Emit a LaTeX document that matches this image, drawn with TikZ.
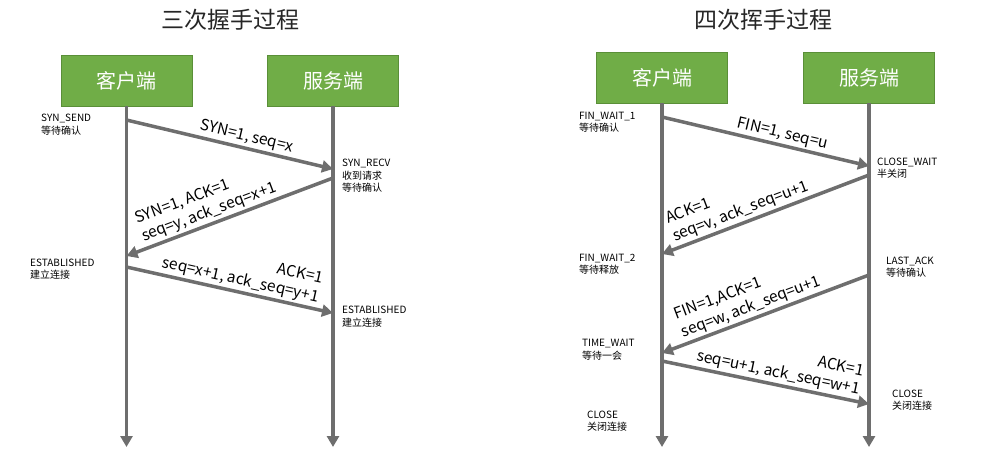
\documentclass[tikz,border=0pt]{standalone}
\usepackage{fontspec}
\setmainfont{Noto Sans CJK SC}
\usetikzlibrary{arrows.meta}
\definecolor{boxgreen}{HTML}{70AD47}
\definecolor{boxline}{HTML}{5A8F38}
\definecolor{linegray}{HTML}{6E6E6E}
\begin{document}
\begin{tikzpicture}[x=1pt, y=-1pt,
	party/.style={draw=boxline, fill=boxgreen, text=white, minimum width=131pt, minimum height=51pt, inner sep=0pt, font=\fontsize{20}{24}\selectfont},
	title/.style={text=black!85, font=\fontsize{23}{28}\selectfont},
	state/.style={anchor=west, align=left, inner sep=0pt, font=\fontsize{10}{12.5}\selectfont},
	msg/.style={draw=linegray, line width=3.5pt, -{Triangle[width=12pt, length=11pt]}},
	lbl/.style={sloped, above, inner sep=2pt, font=\fontsize{15.5}{19}\selectfont}]
	\useasboundingbox (0,0) rectangle (1007,456);
	% Drei-Wege-Handshake
	\node[title] (T1) at (230,20) {三次握手过程};
	\node[party] (C1) at (126.5,80.5) {客户端};
	\node[party] (S1) at (333,80.5) {服务端};
	\coordinate (C1end) at (126.5,447);
	\coordinate (S1end) at (333,447);
	\draw[msg] (C1) -- (C1end);
	\draw[msg] (S1) -- (S1end);
	\coordinate (a1) at (126.5,120);
	\coordinate (b1) at (333,169);
	\coordinate (b2) at (333,178);
	\coordinate (a2) at (126.5,256);
	\coordinate (a3) at (126.5,267);
	\coordinate (b3) at (333,313);
	\draw[msg] (a1) -- node[lbl, pos=0.57] {SYN=1, seq=x} (b1);
	\draw[msg] (b2) -- node[lbl, pos=0.58, align=left] {SYN=1, ACK=1\\seq=y, ack\_seq=x+1} (a2);
	\draw[msg] (a3) -- node[lbl, pos=0.54, align=right] {ACK=1\\seq=x+1, ack\_seq=y+1} (b3);
	\node[state] (st1) at (41,124.5) {SYN\_SEND\\等待确认};
	\node[state] (st2) at (342,176) {SYN\_RECV\\收到请求\\等待确认};
	\node[state] (st3) at (30,269) {ESTABLISHED\\建立连接};
	\node[state] (st4) at (342,316.5) {ESTABLISHED\\建立连接};
	% Vier-Wege-Abbau
	\node[title] (T2) at (763,20) {四次挥手过程};
	\node[party] (C2) at (662,77.5) {客户端};
	\node[party] (S2) at (869,77.5) {服务端};
	\coordinate (C2end) at (662,447);
	\coordinate (S2end) at (869,447);
	\draw[msg] (C2) -- (C2end);
	\draw[msg] (S2) -- (S2end);
	\coordinate (c1) at (662,117);
	\coordinate (d1) at (869,166);
	\coordinate (d2) at (869,175);
	\coordinate (c2) at (662,254);
	\coordinate (d3) at (869,275);
	\coordinate (c3) at (662,353);
	\coordinate (c4) at (662,361);
	\coordinate (d4) at (869,404);
	\draw[msg] (c1) -- node[lbl, pos=0.57] {FIN=1, seq=u} (d1);
	\draw[msg] (d2) -- node[lbl, pos=0.6, align=left] {ACK=1\\seq=v, ack\_seq=u+1} (c2);
	\draw[msg] (d3) -- node[lbl, pos=0.55, align=left] {FIN=1,ACK=1\\seq=w, ack\_seq=u+1} (c3);
	\draw[msg] (c4) -- node[lbl, pos=0.55, align=right] {ACK=1\\seq=u+1, ack\_seq=w+1} (d4);
	\node[state] (st5) at (579,122) {FIN\_WAIT\_1\\等待确认};
	\node[state] (st6) at (877,168) {CLOSE\_WAIT\\半关闭};
	\node[state] (st7) at (579,264) {FIN\_WAIT\_2\\等待释放};
	\node[state] (st8) at (886,267) {LAST\_ACK\\等待确认};
	\node[state] (st9) at (582,349.5) {TIME\_WAIT\\等待一会};
	\node[state] (st10) at (892,400) {CLOSE\\关闭连接};
	\node[state] (st11) at (587,421) {CLOSE\\关闭连接};
\end{tikzpicture}
\end{document}
